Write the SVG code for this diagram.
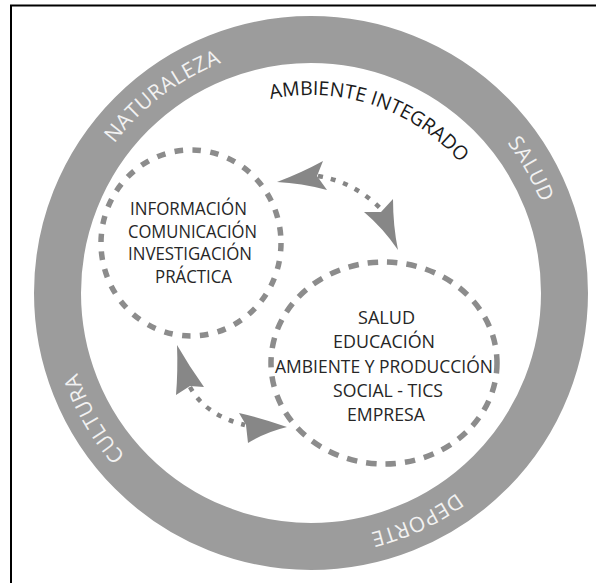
<svg xmlns="http://www.w3.org/2000/svg" width="596" height="583" viewBox="0 0 596 583">
<style>
.ringlbl{font-family:"Open Sans","Liberation Sans",sans-serif;font-size:21px;fill:#f2f2f2;letter-spacing:0.6px}
.arclbl{font-family:"Open Sans","Liberation Sans",sans-serif;font-size:19.5px;fill:#1a1a1a}
.lbl{font-family:"Open Sans","Liberation Sans",sans-serif;fill:#262626;text-anchor:middle;font-size:18px}
.dash{fill:none;stroke:#8c8c8c;stroke-width:5.5}
.dot{fill:none;stroke:#858585;stroke-width:4.5;stroke-dasharray:5 8}
.head{fill:#878787}
</style>
<defs>
<path id="ringPath" d="M 64 293 A 247 247 0 1 1 558 293 A 247 247 0 1 1 64 293"/>
<path id="innerPath" d="M 113 293 A 198 198 0 1 1 509 293 A 198 198 0 1 1 113 293"/>
</defs>
<rect width="596" height="583" fill="#fff"/>
<path d="M11 583 V5.5 H596" fill="none" stroke="#000" stroke-width="2"/>
<g id="ring">
<circle cx="311" cy="293" r="253.5" fill="none" stroke="#9c9c9c" stroke-width="47"/>
<text class="ringlbl" text-anchor="middle"><textPath href="#ringPath" startOffset="228.5">NATURALEZA</textPath></text>
<text class="ringlbl" text-anchor="middle"><textPath href="#ringPath" startOffset="649">SALUD</textPath></text>
<text class="ringlbl" text-anchor="middle"><textPath href="#ringPath" startOffset="1056">DEPORTE</textPath></text>
<text class="ringlbl" text-anchor="middle"><textPath href="#ringPath" startOffset="1422">CULTURA</textPath></text>
</g>
<g id="ambiente">
<text class="arclbl" text-anchor="middle"><textPath href="#innerPath" startOffset="375">AMBIENTE INTEGRADO</textPath></text>
</g>
<g id="node-informacion">
<ellipse class="dash" cx="191" cy="243" rx="90" ry="93" stroke-dasharray="8.5 9.5"/>
<text class="lbl" x="188.5" y="215" textLength="117" lengthAdjust="spacingAndGlyphs">INFORMACIÓN</text>
<text class="lbl" x="192.5" y="237.5" textLength="129" lengthAdjust="spacingAndGlyphs">COMUNICACIÓN</text>
<text class="lbl" x="190" y="260" textLength="124" lengthAdjust="spacingAndGlyphs">INVESTIGACIÓN</text>
<text class="lbl" x="193.5" y="283" textLength="77" lengthAdjust="spacingAndGlyphs">PRÁCTICA</text>
</g>
<g id="node-salud">
<ellipse class="dash" cx="384" cy="363" rx="113" ry="101" stroke-dasharray="10.5 9"/>
<text class="lbl" x="386.5" y="324" textLength="57" lengthAdjust="spacingAndGlyphs">SALUD</text>
<text class="lbl" x="384" y="348" textLength="102" lengthAdjust="spacingAndGlyphs">EDUCACIÓN</text>
<text class="lbl" x="384" y="372.5" textLength="218" lengthAdjust="spacingAndGlyphs">AMBIENTE Y PRODUCCIÓN</text>
<text class="lbl" x="388" y="397" textLength="110" lengthAdjust="spacingAndGlyphs">SOCIAL - TICS</text>
<text class="lbl" x="386" y="421" textLength="78" lengthAdjust="spacingAndGlyphs">EMPRESA</text>
</g>
<g id="connectors">
<path class="dot" d="M 318 176 Q 355 182 382 210"/>
<path class="head" d="M 277 182 Q 301 173 323 161 L 317 176 L 327 190 Q 301 183 277 182 Z"/>
<path class="head" d="M 398 250 Q 383 228 364 212 L 381 212 L 393 199 Q 393 226 398 250 Z"/>
<path class="dot" d="M 190 387 Q 205 415 245 425"/>
<path class="head" d="M 177 345 Q 178 371 176 395 L 190 386 L 204 387 Q 189 366 177 345 Z"/>
<path class="head" d="M 287 427 Q 262 418 239 413 L 246 425 L 248 443 Q 266 432 287 427 Z"/>
</g>
</svg>
